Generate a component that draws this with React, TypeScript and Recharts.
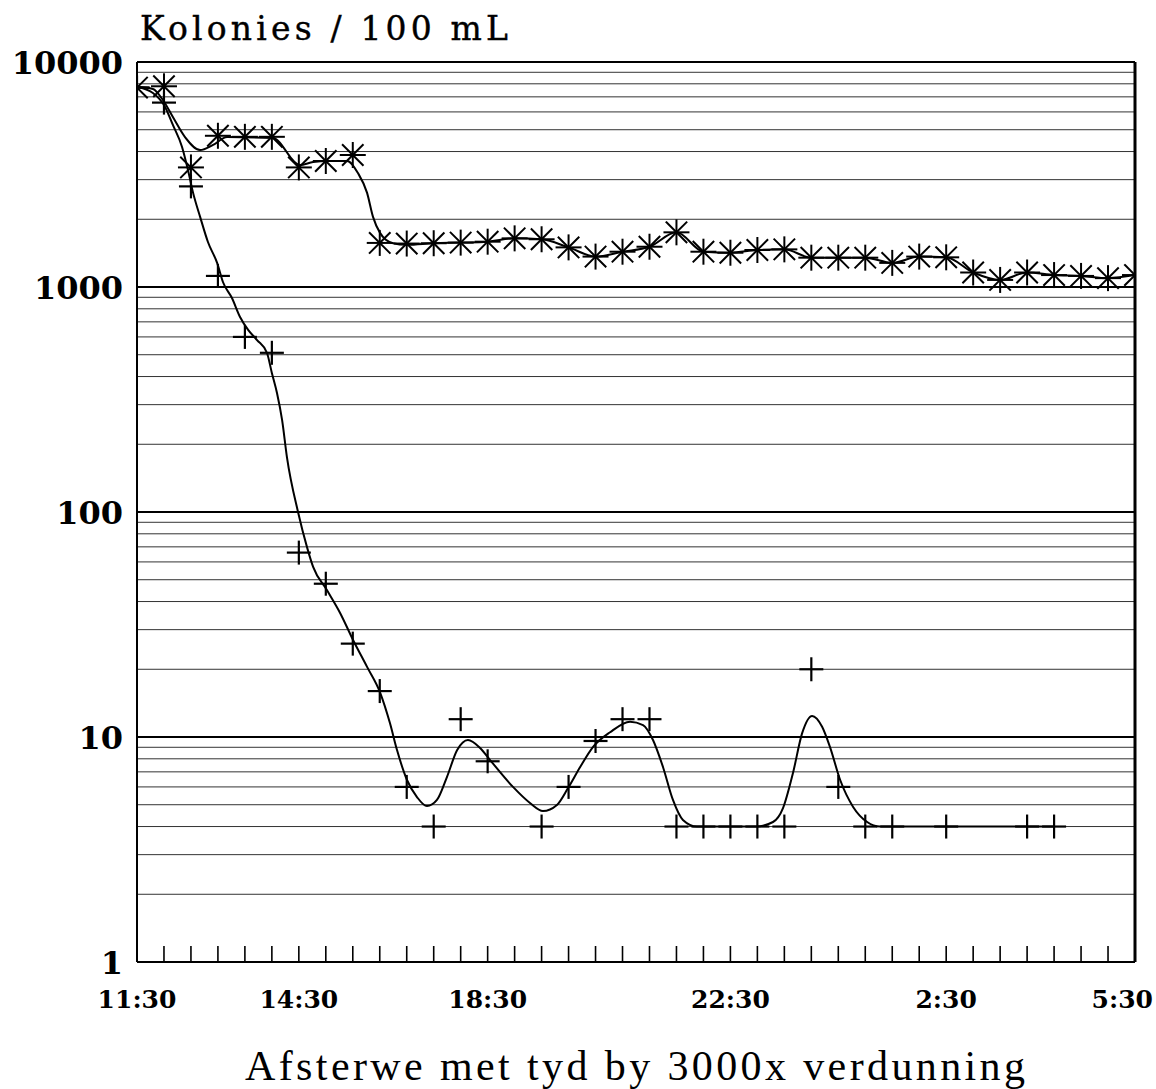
import React from 'react';
import { ComposedChart, Line, Scatter, XAxis, YAxis, ReferenceLine, Label } from 'recharts';

// ---- data ----
const sampleIndex = Array.from({ length: 38 }, (_, i) => i);
const xTickIdx = [0, 6, 13, 22, 30, 37];
const xTickLabels = ['11:30', '14:30', '18:30', '22:30', '2:30', '5:30'];
const yTicks = [1, 10, 100, 1000, 10000];
const yTickLabels = ['1', '10', '100', '1000', '10000'];

// asterisk series (colonies / 100 mL)
const starValues = [
  7700, 7800, 3400, 4700, 4650, 4650, 3400, 3630, 3860, 1570,
  1560, 1565, 1575, 1590, 1645, 1630, 1500, 1365, 1435, 1510,
  1750, 1435, 1420, 1460, 1470, 1350, 1350, 1350, 1280, 1365,
  1355, 1160, 1075, 1160, 1130, 1120, 1095, 1130,
];

// plus series (null = no marker)
const plusValues: (number | null)[] = [
  7700, 6600, 2800, 1120, 600, 510, 66, 48, 26, 16,
  6, 4, 12, 7.8, null, 4, 6, 9.6, 12, 12,
  4, 4, 4, 4, 4, 20, 6, 4, 4, null,
  4, null, null, 4, 4, null, null, null,
];

// smoothed curve through the asterisks (first part; afterwards it follows the points)
const starFitHead: [number, number][] = [
  [0, 7740], [0.59, 7590], [0.96, 6780], [1.33, 5700], [1.78, 4640], [2.34, 4060],
  [2.82, 4280], [3.34, 4640], [5.04, 4590], [6.04, 3485], [6.53, 3594], [7.08, 3630],
  [7.79, 3630], [8.19, 3210], [8.53, 2620], [8.75, 2050], [9.01, 1740], [9.46, 1570],
  [10.01, 1540],
];

// smoothed curve through the plus points
const plusFit: [number, number][] = [
  [0, 7740], [0.59, 7280], [1.04, 6310], [1.33, 5250], [1.67, 4190], [1.89, 3310],
  [2.08, 2620], [2.34, 2050], [2.63, 1585], [2.97, 1280], [3.19, 1050], [3.52, 893],
  [3.82, 736], [4.12, 645], [4.45, 581], [4.82, 509], [5.0, 415], [5.19, 338],
  [5.38, 256], [5.56, 175], [5.97, 100], [6.3, 70], [6.53, 57], [7.04, 45],
  [7.53, 35.6], [8.01, 27], [8.53, 20.5], [9.01, 15.8], [9.38, 11.5], [9.64, 8.75],
  [10.01, 6.44], [10.38, 5.41], [10.75, 4.93], [11.12, 5.25], [11.49, 6.64], [11.87, 8.75],
  [12.27, 9.7], [12.72, 8.94], [13.09, 7.9], [13.94, 6.0], [14.57, 5.09], [15.05, 4.69],
  [15.57, 4.99], [15.98, 5.93], [16.43, 7.36], [16.91, 9.04], [17.54, 10.5], [18.28, 11.7],
  [18.76, 11.3], [19.13, 9.7], [19.5, 7.36], [19.87, 5.25], [20.24, 4.28], [20.76, 4.0],
  [22.95, 4.0], [23.58, 4.19], [23.95, 4.83], [24.32, 6.92], [24.66, 10.4], [25.03, 12.4],
  [25.4, 11.1], [25.69, 9.04], [26.07, 6.44], [26.55, 4.89], [27.07, 4.19], [27.55, 4.0],
  [34, 4.0],
];

const decades = [1, 10, 100, 1000];
const minorMultipliers = [2, 3, 4, 5, 6, 7, 8, 9];
const majorGrid = [10, 100, 1000];

const yTitle = 'Kolonies / 100 mL';
const xTitle = 'Afsterwe met tyd by 3000x verdunning';

// ---- derived tables ----
const starPts = starValues.map((v, i) => ({ x: sampleIndex[i], y: v }));
const plusPts = plusValues
  .map((v, i) => (v == null ? null : { x: sampleIndex[i], y: v }))
  .filter((p): p is { x: number; y: number } => p !== null);
const starFitData = [
  ...starFitHead.map(([x, y]) => ({ x, y })),
  ...starValues.slice(11).map((v, i) => ({ x: i + 11, y: v })),
];
const plusFitData = plusFit.map(([x, y]) => ({ x, y }));
const minorGrid: number[] = [];
decades.forEach((d) => minorMultipliers.forEach((m) => minorGrid.push(d * m)));

const SERIF = '"DejaVu Serif", "Liberation Serif", serif';

const StarShape = (props: any) => {
  const { cx, cy } = props;
  if (cx == null || cy == null) return null;
  const s = 12;
  const d = 10;
  return (
    <g stroke="#000" strokeWidth={2} strokeLinecap="square">
      <line x1={cx} y1={cy - s} x2={cx} y2={cy + s} />
      <line x1={cx - s} y1={cy} x2={cx + s} y2={cy} />
      <line x1={cx - d} y1={cy - d} x2={cx + d} y2={cy + d} />
      <line x1={cx - d} y1={cy + d} x2={cx + d} y2={cy - d} />
    </g>
  );
};

const PlusShape = (props: any) => {
  const { cx, cy } = props;
  if (cx == null || cy == null) return null;
  const s = 12;
  return (
    <g stroke="#000" strokeWidth={2.2}>
      <line x1={cx} y1={cy - s} x2={cx} y2={cy + s} />
      <line x1={cx - s} y1={cy} x2={cx + s} y2={cy} />
    </g>
  );
};

const XTick = (props: any) => {
  const { x, y, payload } = props;
  const k = xTickIdx.indexOf(payload.value);
  const last = k === xTickIdx.length - 1;
  return (
    <g>
      {payload.value > 0 && payload.value < 37 && (
        <line x1={x} y1={y} x2={x} y2={y - 16} stroke="#000" strokeWidth={1.6} />
      )}
      {k >= 0 && (
        <text x={last ? x + 18 : x} y={y + 46} textAnchor={last ? 'end' : 'middle'}
          fontFamily={SERIF} fontWeight="bold" fontSize={25} fill="#000">
          {xTickLabels[k]}
        </text>
      )}
    </g>
  );
};

const YTick = (props: any) => {
  const { x, y, payload } = props;
  const k = yTicks.indexOf(payload.value);
  if (k < 0) return null;
  return (
    <text x={x - 14} y={y + 12} textAnchor="end" fontFamily={SERIF} fontWeight="bold" fontSize={32} fill="#000">
      {yTickLabels[k]}
    </text>
  );
};

export default function App() {
  return (
    <div style={{ width: 1156, height: 1089, background: '#fff' }}>
      <style>{`body{margin:0;overflow:hidden;background:#fff}`}</style>
      <ComposedChart width={1156} height={1089} margin={{ top: 62, right: 21, bottom: 67, left: 0 }}>
        <XAxis
          type="number"
          dataKey="x"
          domain={[0, 37]}
          ticks={sampleIndex}
          interval={0}
          tickSize={0}
          tickMargin={0}
          height={60}
          axisLine={{ stroke: '#000', strokeWidth: 2 }}
          tick={<XTick />}
          allowDataOverflow
        >
          <Label
            content={() => (
              <text x={635} y={1080} textAnchor="middle" fontFamily='"Liberation Serif", serif' fontSize={42}
                fill="#000" textLength={780} lengthAdjust="spacing">
                {xTitle}
              </text>
            )}
          />
        </XAxis>
        <YAxis
          type="number"
          scale="log"
          domain={[1, 10000]}
          ticks={yTicks}
          interval={0}
          width={137}
          tickSize={0}
          tickMargin={0}
          axisLine={{ stroke: '#000', strokeWidth: 2 }}
          tick={<YTick />}
          allowDataOverflow
        >
          <Label
            content={() => (
              <text x={140} y={40} textAnchor="start" fontFamily={SERIF} fontSize={33}
                fill="#000" stroke="#000" strokeWidth={0.4} textLength={368} lengthAdjust="spacing">
                {yTitle}
              </text>
            )}
          />
        </YAxis>
        {minorGrid.map((v) => (
          <ReferenceLine key={'m' + v} y={v} stroke="#333" strokeWidth={1} />
        ))}
        {majorGrid.map((v) => (
          <ReferenceLine key={'M' + v} y={v} stroke="#000" strokeWidth={2} />
        ))}
        <ReferenceLine y={10000} stroke="#000" strokeWidth={2} />
        <ReferenceLine x={37} stroke="#000" strokeWidth={3} />
        <Line data={starFitData} dataKey="y" type="monotone" stroke="#000" strokeWidth={2}
          dot={false} activeDot={false} isAnimationActive={false} />
        <Line data={plusFitData} dataKey="y" type="monotone" stroke="#000" strokeWidth={2}
          dot={false} activeDot={false} isAnimationActive={false} />
        <Scatter data={starPts} dataKey="y" shape={<StarShape />} isAnimationActive={false} />
        <Scatter data={plusPts} dataKey="y" shape={<PlusShape />} isAnimationActive={false} />
      </ComposedChart>
    </div>
  );
}
